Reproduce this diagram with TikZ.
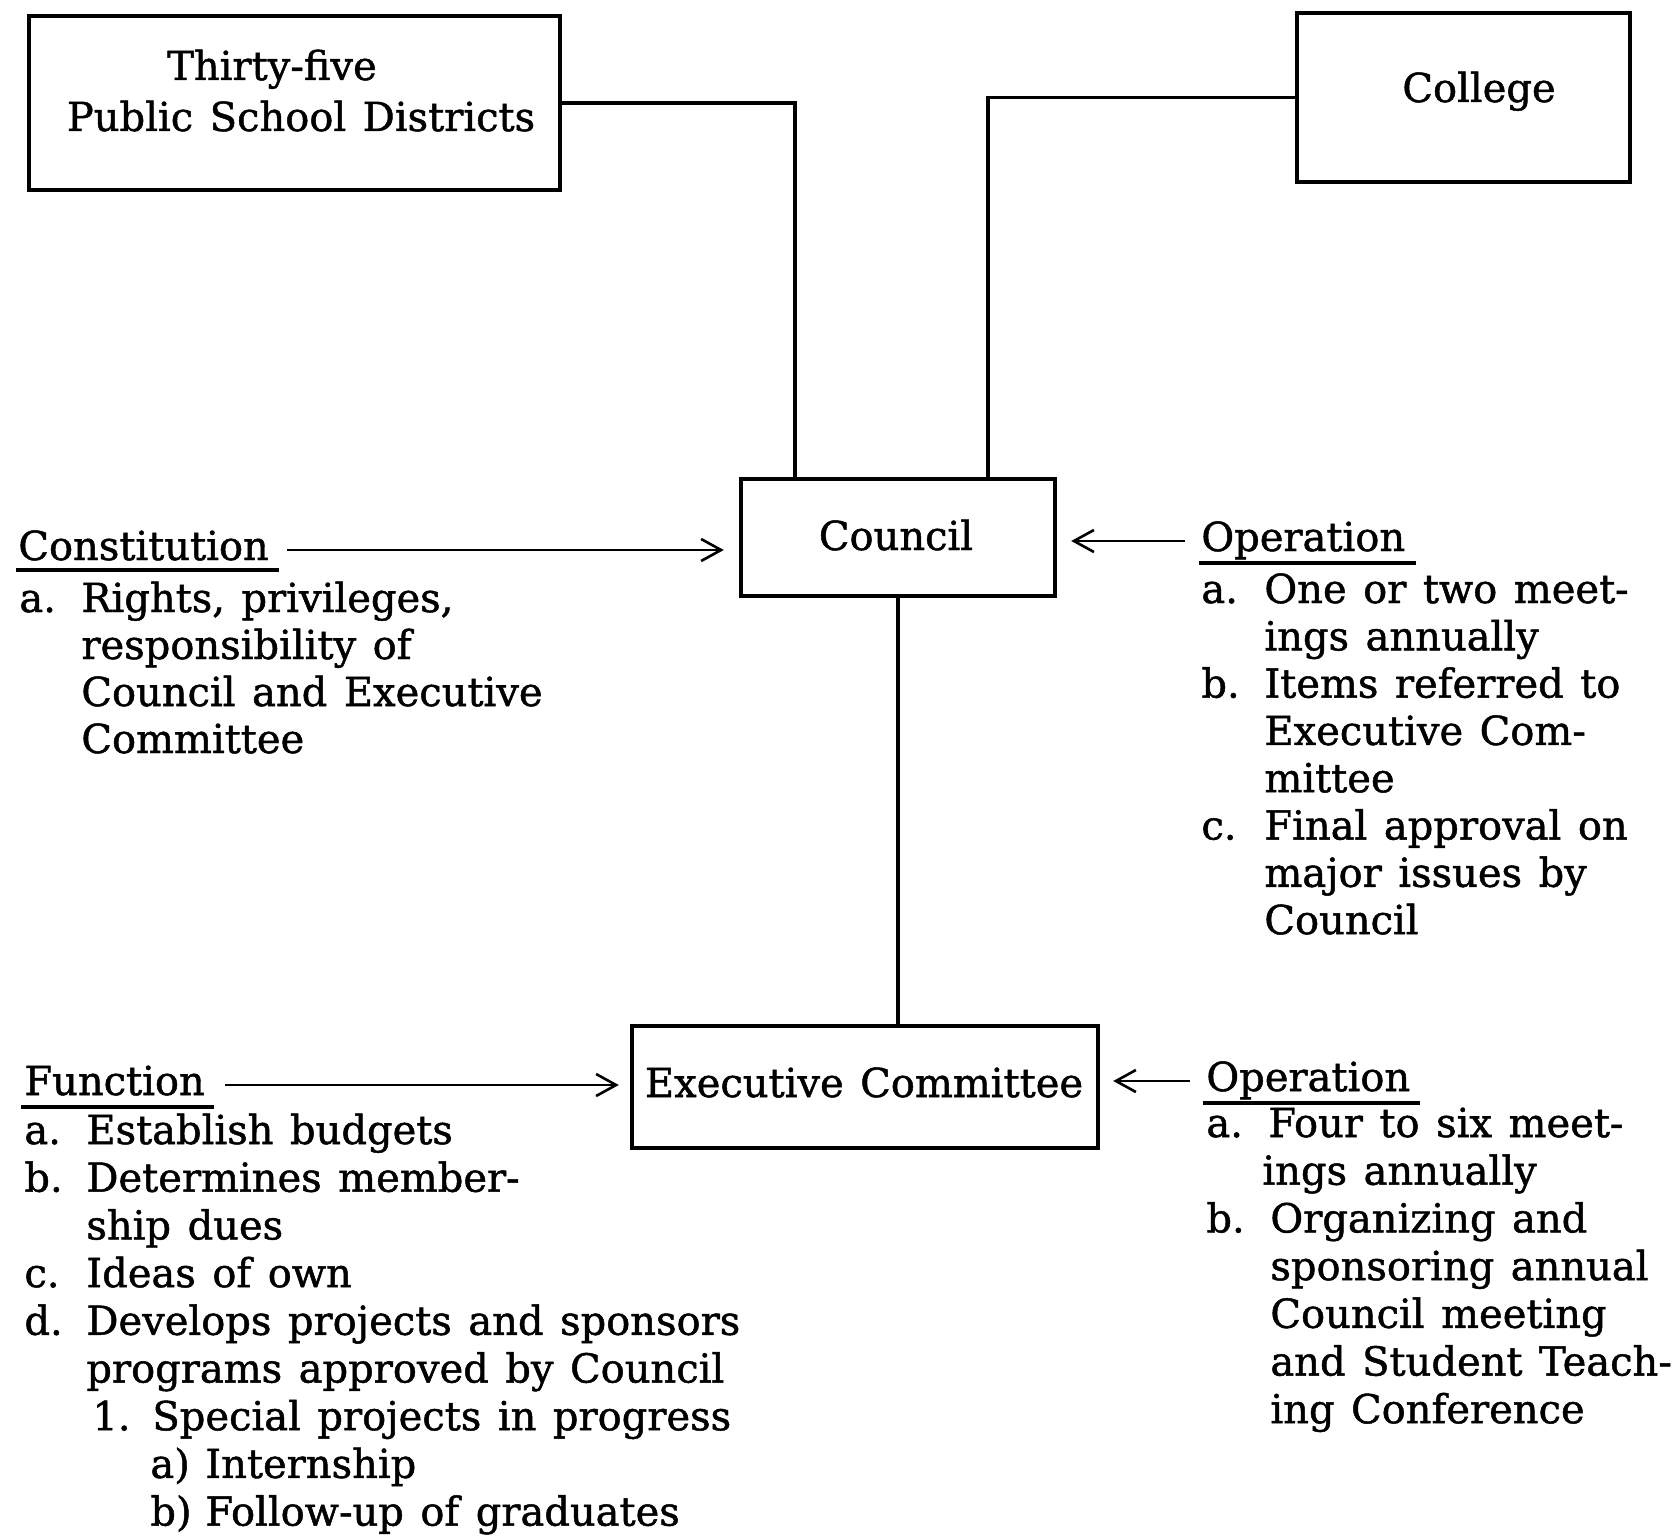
\documentclass[tikz,border=0pt]{standalone}
\usepackage{fontspec}
\setmainfont[FakeBold=1.2,WordSpace=1.3]{DejaVu Serif}
\usetikzlibrary{arrows.meta}
\begin{document}
\begin{tikzpicture}[x=0.5pt,y=-0.5pt,
  box/.style={draw, line width=2.2pt, inner sep=0pt},
  link/.style={line width=1.6pt},
  feed/.style={line width=1.3pt, -{Straight Barb[length=10pt,width=11pt,line width=1.3pt]}},
  uline/.style={line width=2pt},
  txt/.style={inner sep=0pt, font=\fontsize{20}{24}\selectfont},
  item/.style={txt, anchor=base west},
  ctr/.style={txt, anchor=base},
]
\useasboundingbox (0,0) rectangle (1680,1536);

% --- boxes ---
\node[box, minimum width=265.5pt, minimum height=87pt] (dist) at (294.5,103) {};
\node[ctr] (distA) at (272,80) {Thirty-five};
\node[ctr] (distB) at (301,131) {Public School Districts};

\node[box, minimum width=166.5pt, minimum height=84.5pt] (college) at (1463.5,97.5) {};
\node[ctr] (collegeT) at (1479,102) {College};

\node[box, minimum width=157pt, minimum height=58.5pt] (council) at (898,537.5) {};
\node[ctr] (councilT) at (896,550) {Council};

\node[box, minimum width=233pt, minimum height=61pt] (exec) at (865,1087) {};
\node[ctr] (execT) at (864,1097) {Executive Committee};

% --- hierarchy lines ---
\draw[link] (dist.east) -| ([xshift=-51.5pt]council.north);
\draw[link] (college.west) -| ([xshift=45pt]council.north);
\draw[link] (council.south) -- (council.south |- exec.north);

% --- Constitution ---
\node[item] (conhead) at (18,560) {Constitution};
\draw[uline] ([xshift=-1pt,yshift=-5pt]conhead.base west) -- ([xshift=5pt,yshift=-5pt]conhead.base east);
\draw[feed] ([xshift=9pt,yshift=5pt]conhead.base east) -- ([xshift=-7.5pt,yshift=5pt]conhead.base east -| council.west);
\foreach \lab/\txt [count=\i] in {a./{Rights, privileges,}, {}/responsibility of, {}/Council and Executive, {}/Committee}{
  \node[item] (conl\i) at (19,{612+47*(\i-1)}) {\lab};
  \node[item] (cont\i) at (81,{612+47*(\i-1)}) {\txt};
}

% --- Operation of the Council ---
\node[item] (ophead) at (1201,551) {Operation};
\draw[uline] ([xshift=-1pt,yshift=-6pt]ophead.base west) -- ([xshift=5pt,yshift=-6pt]ophead.base east);
\draw[feed] ([xshift=-8pt,yshift=5pt]ophead.base west) -- ([xshift=7pt,yshift=5pt]ophead.base west -| council.east);
\foreach \lab/\txt [count=\i] in {a./One or two meet-, {}/ings annually, b./Items referred to, {}/Executive Com-, {}/mittee, c./Final approval on, {}/major issues by, {}/Council}{
  \node[item] (opl\i) at (1201,{603+47.3*(\i-1)}) {\lab};
  \node[item] (opt\i) at (1264,{603+47.3*(\i-1)}) {\txt};
}

% --- Function ---
\node[item] (fnhead) at (24,1095) {Function};
\draw[uline] ([xshift=-1.5pt,yshift=-6pt]fnhead.base west) -- ([xshift=4.5pt,yshift=-6pt]fnhead.base east);
\draw[feed] ([xshift=10pt,yshift=5pt]fnhead.base east) -- ([xshift=-5.5pt,yshift=5pt]fnhead.base east -| exec.west);
\foreach \lx/\lab/\tx/\txt [count=\i] in {24/a./86/Establish budgets, 24/b./86/Determines member-, 24/{}/86/ship dues, 24/c./86/Ideas of own, 24/d./86/Develops projects and sponsors, 24/{}/86/programs approved by Council, 92/1./152/Special projects in progress, 150/a)/205/Internship, 150/b)/205/Follow-up of graduates}{
  \node[item] (fnl\i) at (\lx,{1144+47.7*(\i-1)}) {\lab};
  \node[item] (fnt\i) at (\tx,{1144+47.7*(\i-1)}) {\txt};
}

% --- Operation of the Executive Committee ---
\node[item] (ephead) at (1206,1091) {Operation};
\draw[uline] ([xshift=-1.5pt,yshift=-6pt]ephead.base west) -- ([xshift=4.5pt,yshift=-6pt]ephead.base east);
\draw[feed] ([xshift=-8pt,yshift=5pt]ephead.base west) -- ([xshift=6.5pt,yshift=5pt]ephead.base west -| exec.east);
\foreach \lab/\tx/\txt [count=\i] in {a./1268/Four to six meet-, {}/1262/ings annually, b./1270/Organizing and, {}/1270/sponsoring annual, {}/1270/Council meeting, {}/1270/and Student Teach-, {}/1270/ing Conference}{
  \node[item] (epl\i) at (1206,{1137+47.7*(\i-1)}) {\lab};
  \node[item] (ept\i) at (\tx,{1137+47.7*(\i-1)}) {\txt};
}
\end{tikzpicture}
\end{document}
